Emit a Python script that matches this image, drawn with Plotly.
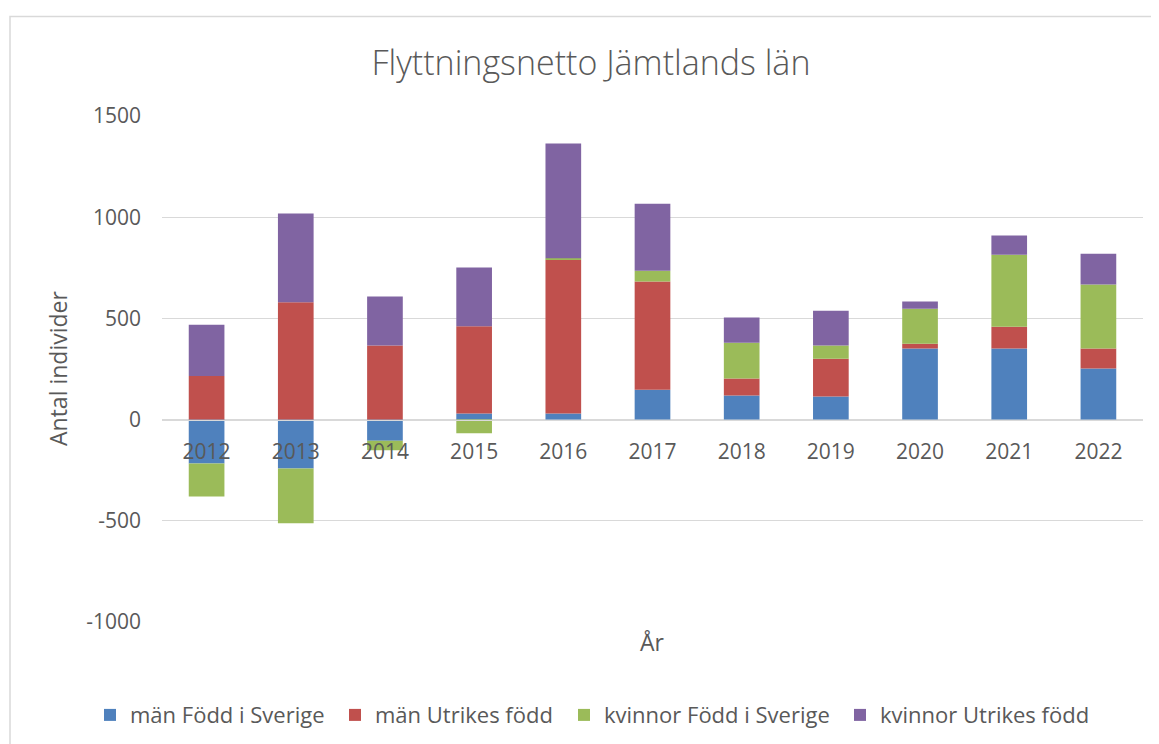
import plotly.graph_objects as go

years = ["2012", "2013", "2014", "2015", "2016", "2017", "2018", "2019", "2020", "2021", "2022"]
man_sverige = [-217, -242, -104, 30, 30, 148, 119, 114, 351, 351, 252]
man_utrikes = [216, 580, 366, 431, 760, 534, 84, 187, 24, 108, 99]
kvinnor_sverige = [-163, -270, -48, -68, 7, 54, 177, 65, 173, 356, 316]
kvinnor_utrikes = [253, 438, 242, 290, 567, 331, 124, 172, 35, 94, 153]

y_tick_vals = [-1000, -500, 0, 500, 1000, 1500]
y_tick_text = ["-1000", "-500", "0", "500", "1000", "1500"]

series = [
    ("män Född i Sverige", man_sverige, "#4F81BD"),
    ("män Utrikes född", man_utrikes, "#C0504D"),
    ("kvinnor Född i Sverige", kvinnor_sverige, "#9BBB59"),
    ("kvinnor Utrikes född", kvinnor_utrikes, "#8064A2"),
]
# pixel where each legend text starts in the reference
legend_text_px = [130, 375, 604, 880]

FONT = "Open Sans"
GRAY = "#595959"
GRID = "#d9d9d9"
PLOT_L = 162
PLOT_W = 981

fig = go.Figure()
legend_layouts = {}
for i, (name, vals, col) in enumerate(series):
    key = "legend" if i == 0 else f"legend{i + 1}"
    fig.add_trace(go.Bar(x=years, y=vals, name=name, legend=key,
                         marker=dict(color=col, line=dict(width=0))))
    legend_layouts[key] = dict(
        orientation="h", x=(legend_text_px[i] - 40 - PLOT_L) / PLOT_W, xanchor="left",
        y=-0.184, yanchor="middle", bgcolor="rgba(0,0,0,0)",
        font=dict(family=FONT, size=22, color=GRAY), itemwidth=30,
    )

fig.update_layout(
    width=1159, height=744,
    barmode="relative", bargap=0.6,
    paper_bgcolor="white", plot_bgcolor="white",
    margin=dict(l=154, r=24, t=108, b=130),
    font=dict(family=FONT, color=GRAY, size=20),
    title=dict(text="Flyttningsnetto Jämtlands län", x=0.503, xref="container",
               y=1 - 55 / 744, yref="container", xanchor="center", yanchor="middle",
               font=dict(family=FONT, size=34, color=GRAY, weight=300)),
    showlegend=True,
    yaxis=dict(range=[-1000, 1500], tickvals=y_tick_vals, ticktext=y_tick_text,
               showgrid=True, gridcolor=GRID, gridwidth=1,
               zeroline=True, zerolinecolor=GRID, zerolinewidth=1, showline=False,
               ticks="", ticklabelstandoff=20, tickfont=dict(size=21, color=GRAY)),
    xaxis=dict(anchor="free", position=0.4, showgrid=False, zeroline=False,
               showline=True, linecolor=GRID, linewidth=1,
               ticks="outside", ticklen=13, tickcolor="rgba(0,0,0,0)",
               tickfont=dict(size=21, color=GRAY)),
    annotations=[
        dict(text="År", x=0.5, y=-0.04, xref="paper", yref="paper", showarrow=False,
             xanchor="center", yanchor="middle", font=dict(size=23, color=GRAY)),
        dict(text="Antal individer", x=(58 - PLOT_L) / PLOT_W, y=0.5, xref="paper", yref="paper",
             showarrow=False, textangle=-90, xanchor="center", yanchor="middle",
             font=dict(size=23, color=GRAY)),
    ],
    shapes=[
        dict(type="rect", xref="paper", yref="paper",
             x0=(10 - PLOT_L) / PLOT_W, x1=1.05, y0=-0.26, y1=(622 - 16) / 506.5,
             line=dict(color=GRID, width=1.5), layer="below"),
    ],
    **legend_layouts,
)

fig.write_html("out.html")
